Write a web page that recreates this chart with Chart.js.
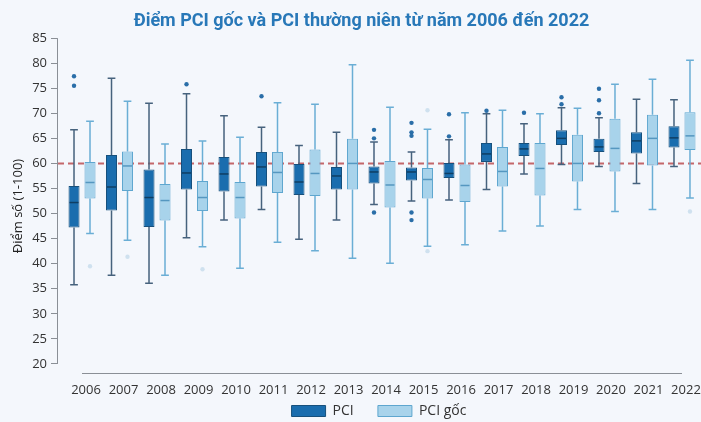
<!DOCTYPE html>
<html><head><meta charset="utf-8">
<script src="https://cdn.jsdelivr.net/npm/chart.js@4"></script>
<style>html,body{margin:0;padding:0;background:#f4f7fc}#wrap{width:701px;height:422px;position:relative}</style>
</head><body><div id="wrap"><canvas id="c"></canvas></div>
<script>
const years = [2006,2007,2008,2009,2010,2011,2012,2013,2014,2015,2016,2017,2018,2019,2020,2021,2022];
const yTicks = [20,25,30,35,40,45,50,55,60,65,70,75,80,85];
const threshold = 60;

// PCI (annual)
const pciMin = [35.8,37.7,36.1,45.2,48.7,50.8,44.9,48.7,51.8,52.5,52.7,54.8,57.9,59.8,59.4,56.0,59.4];
const pciQ1  = [47.2,50.6,47.3,54.8,54.4,55.4,53.7,54.8,56.0,56.6,57.1,60.3,61.5,63.7,62.3,62.0,63.2];
const pciMed = [52.2,55.3,53.2,58.1,57.9,59.3,56.3,57.5,58.3,58.3,58.0,61.9,62.9,65.0,63.3,64.5,65.1];
const pciQ3  = [55.5,61.7,58.8,62.9,61.3,62.3,59.9,59.3,59.4,59.2,60.1,64.1,64.1,66.6,64.9,66.2,67.4];
const pciMax = [66.7,77.0,72.0,73.9,69.5,67.2,63.6,66.2,64.3,62.3,64.7,69.9,67.9,71.1,69.1,72.8,72.7];
const pciOut = [[77.4,75.5],[],[],[75.8],[],[73.4],[],[],[66.7,65.0,50.2],[68.1,66.2,65.5,50.2,48.7],[69.8,65.4],[70.5],[70.1],[73.2,71.8],[74.9,72.6,70.0],[],[]];

// PCI gốc (raw)
const gocMin = [46.0,44.7,37.7,43.4,39.1,44.3,42.6,41.1,40.1,43.5,43.8,46.5,47.5,50.8,50.4,50.8,53.1];
const gocQ1  = [53.0,54.5,48.6,50.5,49.0,54.1,53.5,54.8,51.2,53.0,52.3,55.4,53.6,56.4,58.4,59.6,62.7];
const gocMed = [56.2,59.5,52.6,53.2,53.2,58.2,58.0,60.0,55.7,56.8,55.6,58.4,59.0,60.0,63.0,65.0,65.5];
const gocQ3  = [60.3,62.4,55.9,56.5,56.3,62.3,62.8,64.9,60.5,59.1,59.8,63.3,64.1,65.7,68.9,69.7,70.2];
const gocMax = [68.4,72.4,63.9,64.5,65.2,72.1,71.8,79.7,71.2,66.8,70.1,70.6,69.9,71.0,75.8,76.8,80.6];
const gocOut = [[39.5],[41.4],[],[38.9],[],[],[],[],[],[70.6,42.5],[],[],[],[],[],[],[50.4]];

const series = [
  {label:'PCI', min:pciMin,q1:pciQ1,med:pciMed,q3:pciQ3,max:pciMax,out:pciOut,
   fill:'#1a6dae', border:'#17507c', median:'#0f3e63', whisker:'#46627d', outC:'#2a6ea8'},
  {label:'PCI gốc', min:gocMin,q1:gocQ1,med:gocMed,q3:gocQ3,max:gocMax,out:gocOut,
   fill:'#a8d3eb', border:'#5ea6cf', median:'#5597c0', whisker:'#6aaed5', outC:'#cfe1ef'}
];

const boxPlugin = {
  id:'boxes',
  beforeDatasetsDraw(chart){
    const {ctx, chartArea, scales:{x,y}} = chart;
    ctx.save();
    ctx.strokeStyle = '#8a8f96'; ctx.lineWidth = 1;
    ctx.beginPath();
    ctx.moveTo(chartArea.left+0.5, y.getPixelForValue(yTicks[yTicks.length-1]));
    ctx.lineTo(chartArea.left+0.5, y.getPixelForValue(yTicks[0]));
    ctx.stroke();
    ctx.beginPath();
    ctx.moveTo(x.getPixelForValue(years[0]), chartArea.bottom-0.5);
    ctx.lineTo(x.getPixelForValue(years[years.length-1]), chartArea.bottom-0.5);
    ctx.stroke();
    const ty = y.getPixelForValue(threshold);
    ctx.strokeStyle = '#c4676a'; ctx.lineWidth = 2; ctx.setLineDash([6,4]);
    ctx.beginPath(); ctx.moveTo(chartArea.left+1, ty); ctx.lineTo(chartArea.right, ty); ctx.stroke();
    ctx.restore();
  },
  afterDatasetsDraw(chart){
    const {ctx, scales:{y}} = chart;
    ctx.save();
    series.forEach((s, di) => {
      const meta = chart.getDatasetMeta(di);
      meta.data.forEach((bar, i) => {
        const cx = bar.x, w = bar.width, cap = w*0.35;
        const yq1 = y.getPixelForValue(s.q1[i]), yq3 = y.getPixelForValue(s.q3[i]);
        const ymin = y.getPixelForValue(s.min[i]), ymax = y.getPixelForValue(s.max[i]);
        ctx.strokeStyle = s.whisker; ctx.lineWidth = 1.5;
        ctx.beginPath();
        ctx.moveTo(cx, yq3); ctx.lineTo(cx, ymax);
        ctx.moveTo(cx-cap, ymax); ctx.lineTo(cx+cap, ymax);
        ctx.moveTo(cx, yq1); ctx.lineTo(cx, ymin);
        ctx.moveTo(cx-cap, ymin); ctx.lineTo(cx+cap, ymin);
        ctx.stroke();
        const ym = y.getPixelForValue(s.med[i]);
        ctx.strokeStyle = s.median; ctx.lineWidth = 1.5;
        ctx.beginPath(); ctx.moveTo(cx-w/2+1, ym); ctx.lineTo(cx+w/2-1, ym); ctx.stroke();
        ctx.fillStyle = s.outC;
        s.out[i].forEach(v => {
          ctx.beginPath(); ctx.arc(cx, y.getPixelForValue(v), 2.2, 0, Math.PI*2); ctx.fill();
        });
      });
    });
    ctx.restore();
  }
};

const font = "'Open Sans', 'DejaVu Sans', sans-serif";
new Chart(document.getElementById('c'), {
  type:'bar',
  data:{
    datasets: series.map(s => ({
      label:s.label,
      data: years.map((yr,i) => ({x:yr, y:[s.q1[i], s.q3[i]]})),
      backgroundColor:s.fill, borderColor:s.border, borderWidth:1, borderSkipped:false,
      categoryPercentage:0.853, barPercentage:0.69
    }))
  },
  options:{
    responsive:true, maintainAspectRatio:false, animation:false,
    layout:{padding:{left:22,right:0,top:0,bottom:0}},
    plugins:{
      tooltip:{enabled:false},
      title:{display:true, text:'Điểm PCI gốc và PCI thường niên từ năm 2006 đến 2022',
        color:'#2878b8', font:{family:"Roboto, sans-serif", size:18, weight:'bold'}, padding:{top:11,bottom:5.5}},
      legend:{position:'bottom', fullSize:false, maxHeight:24,
        labels:{boxWidth:34, boxHeight:11, padding:6, color:'#333', font:{family:font, size:14},
          generateLabels(chart){
            const items = Chart.defaults.plugins.legend.labels.generateLabels(chart);
            items.forEach((it, k) => { if (k < items.length-1) it.text = it.text + '     '; });
            return items;
          }}}
    },
    scales:{
      x:{type:'linear', offset:false, min:2005.333, max:2022.507,
        grid:{display:false}, border:{display:false},
        afterBuildTicks(sc){ sc.ticks = years.map(v => ({value:v})); },
        afterFit(sc){ sc.height = 24; },
        ticks:{autoSkip:false, maxRotation:0, labelOffset:4, padding:0, color:'#333', font:{family:font, size:13},
          callback:v => String(v)}
      },
      y:{min:18, max:85,
        grid:{display:true, drawOnChartArea:false, drawTicks:true, tickLength:6, color:'#8a8f96'},
        border:{display:false},
        afterBuildTicks(sc){ sc.ticks = yTicks.map(v => ({value:v})); },
        afterFit(sc){ sc.width = 35; },
        title:{display:true, text:'Điểm số (1-100)', color:'#222', font:{family:font, size:13}, padding:{top:-12,bottom:0}},
        ticks:{padding:4, color:'#333', font:{family:font, size:13}}
      }
    }
  },
  plugins:[boxPlugin]
});
</script></body></html>
